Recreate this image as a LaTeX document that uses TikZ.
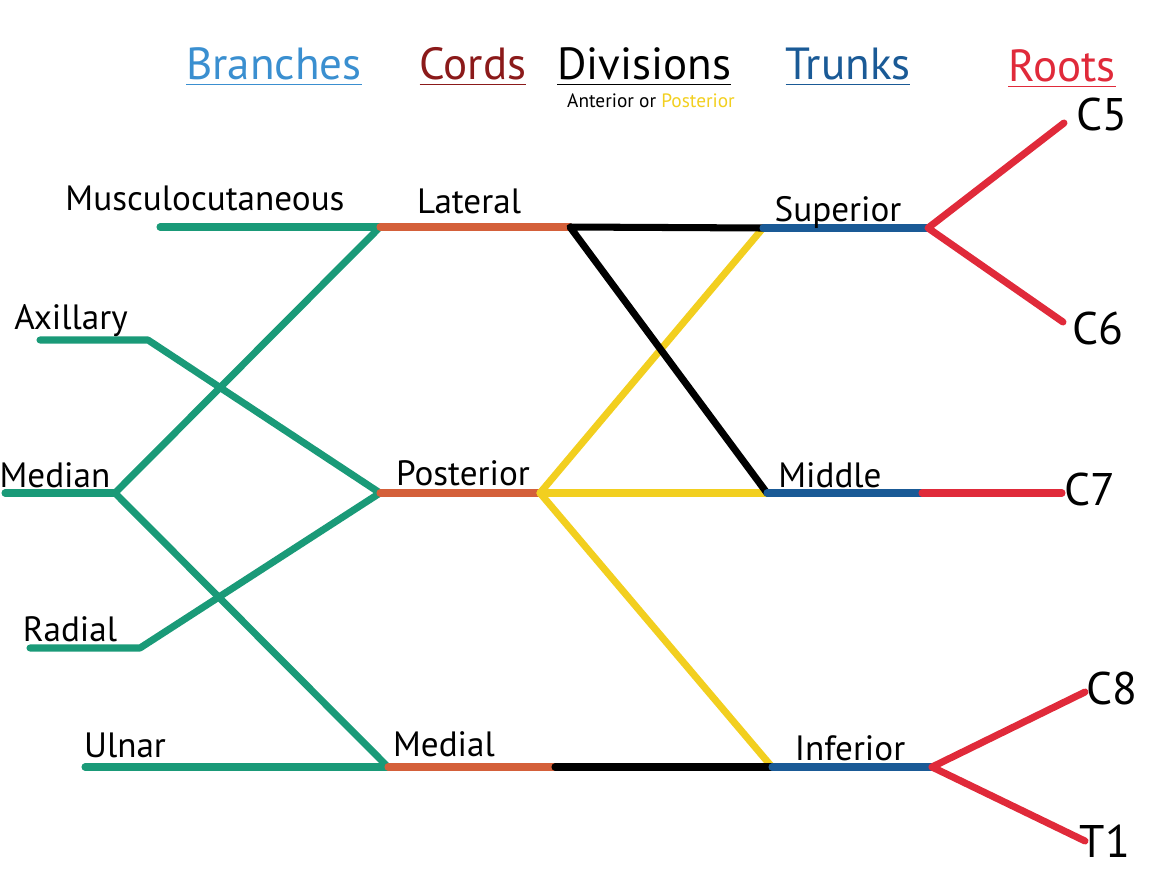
\documentclass[tikz,border=0pt]{standalone}
\usepackage{fontspec}
\setmainfont{PT Sans}

\definecolor{branchgreen}{HTML}{1A9A78}
\definecolor{cordorange}{HTML}{D4603A}
\definecolor{divyellow}{HTML}{F2CF1F}
\definecolor{trunkblue}{HTML}{1A5A96}
\definecolor{rootred}{HTML}{E02A3A}
\definecolor{headblue}{HTML}{3A8FD0}
\definecolor{headred}{HTML}{8B1A1A}

\tikzset{
  lbl/.style={anchor=base, inner sep=0pt, font=\fontsize{10}{12}\selectfont},
  rootlbl/.style={anchor=base, inner sep=0pt, font=\fontsize{13}{15}\selectfont},
  head/.style={anchor=base, inner sep=0pt, font=\fontsize{12.8}{15}\selectfont},
}

\begin{document}
\begin{tikzpicture}[x=0.01cm, y=-0.01cm, line width=2pt, line cap=round, line join=round]
\useasboundingbox (0,0) rectangle (1150,869);

% headings
\node[head, text=headblue] (hbranch) at (274,79) {\underline{Branches}};
\node[head, text=headred] (hcord) at (473,79) {\underline{Cords}};
\node[head] (hdiv) at (644,79) {\underline{Divisions}};
\node[head, text=trunkblue] (htrunk) at (848,79) {\underline{Trunks}};
\node[head, text=rootred] (hroot) at (1062,81) {\underline{Roots}};
\node[anchor=base, inner sep=0pt, font=\fontsize{5.5}{7}\selectfont] (hdivsub) at (651,107)
  {Anterior or \textcolor{divyellow}{Posterior}};

% junction points
\coordinate (musc) at (160,227);
\coordinate (lat) at (380,227);
\coordinate (latend) at (570,227);
\coordinate (axil) at (40,340);
\coordinate (axilbend) at (148,340);
\coordinate (medn) at (5,493);
\coordinate (mednfork) at (115,493);
\coordinate (post) at (380,493);
\coordinate (postend) at (540,493);
\coordinate (rad) at (30,648);
\coordinate (radbend) at (140,648);
\coordinate (uln) at (85,767);
\coordinate (medl) at (388,767);
\coordinate (medlmid) at (555,767);
\coordinate (sup) at (763,228);
\coordinate (supend) at (928,228);
\coordinate (mid) at (767,493);
\coordinate (midend) at (922,493);
\coordinate (inf) at (772,767);
\coordinate (infend) at (932,767);
\coordinate (c5) at (1064,123);
\coordinate (c6) at (1063,322);
\coordinate (c7) at (1062,493);
\coordinate (c8) at (1085,692);
\coordinate (t1) at (1085,841);

% branches
\draw[branchgreen] (musc) -- (lat);
\draw[branchgreen] (axil) -- (axilbend) -- (post);
\draw[branchgreen] (lat) -- (mednfork) -- (medl);
\draw[branchgreen] (medn) -- (mednfork);
\draw[branchgreen] (rad) -- (radbend) -- (post);
\draw[branchgreen] (uln) -- (medl);

% cords
\draw[cordorange] (lat) -- (latend);
\draw[cordorange] (post) -- (postend);
\draw[cordorange] (medl) -- (medlmid);

% divisions
\draw[divyellow] (sup) -- (postend) -- (inf);
\draw[divyellow] (postend) -- (mid);
\draw[black] (sup) -- (latend) -- (mid);
\draw[black] (medlmid) -- (inf);

% trunks
\draw[trunkblue] (sup) -- (supend);
\draw[trunkblue] (mid) -- (midend);
\draw[trunkblue] (inf) -- (infend);

% roots
\draw[rootred] (c5) -- (supend) -- (c6);
\draw[rootred] (midend) -- (c7);
\draw[rootred] (c8) -- (infend) -- (t1);

% labels
\node[lbl] (lmusc) at (205,210) {Musculocutaneous};
\node[lbl] (laxil) at (71,329) {Axillary};
\node[lbl] (lmedn) at (55,487) {Median};
\node[lbl] (lrad) at (70,641) {Radial};
\node[lbl] (luln) at (125,757) {Ulnar};
\node[lbl] (llat) at (469,213) {Lateral};
\node[lbl] (lpost) at (463,485) {Posterior};
\node[lbl] (lmedl) at (444,756) {Medial};
\node[lbl] (lsup) at (838,221) {Superior};
\node[lbl] (lmid) at (830,487) {Middle};
\node[lbl] (linf) at (850,760) {Inferior};
\node[rootlbl] (lc5) at (1102,130) {C5};
\node[rootlbl] (lc6) at (1098,344) {C6};
\node[rootlbl] (lc7) at (1090,505) {C7};
\node[rootlbl] (lc8) at (1112,704) {C8};
\node[rootlbl] (lt1) at (1105,857) {T1};
\end{tikzpicture}
\end{document}
